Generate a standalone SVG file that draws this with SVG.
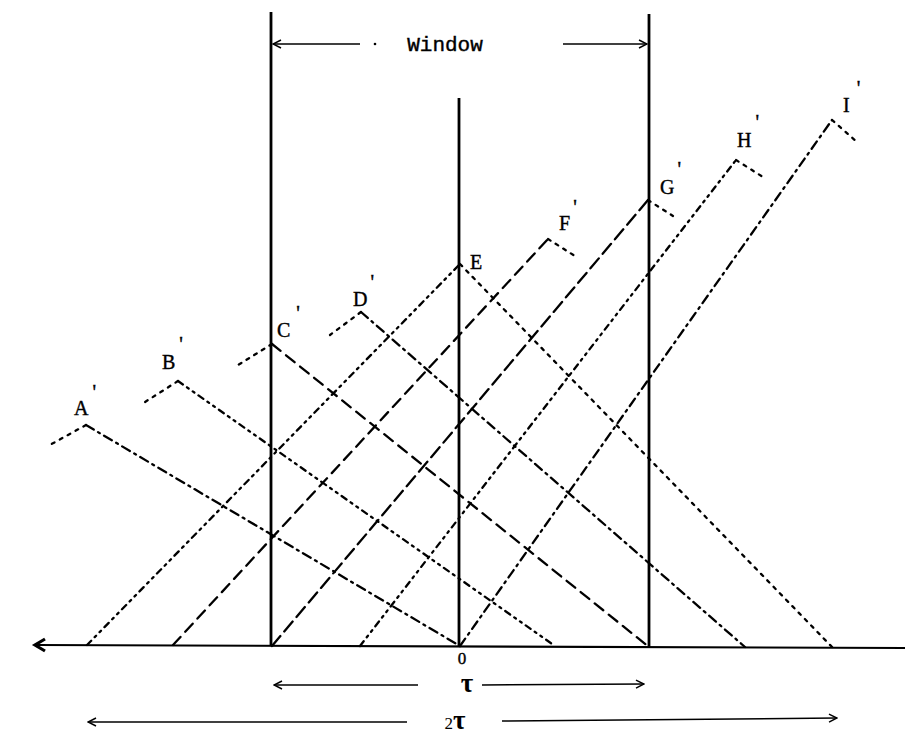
<svg xmlns="http://www.w3.org/2000/svg" width="905" height="738" viewBox="0 0 905 738">
<style>
.bg{fill:#fff}
.v{stroke:#000;stroke-width:2.8;fill:none}
.ax{stroke:#000;stroke-width:2.2;fill:none}
.ar{stroke:#000;stroke-width:1.5;fill:none}
.l{stroke:#000;stroke-width:2.3;fill:none;stroke-linecap:round}
.d1{stroke-dasharray:9 5 2 5}
.d2{stroke-dasharray:6 5 2 5 2 5}
.d3{stroke-dasharray:11 7}
.d4{stroke-dasharray:3 6}
.d5{stroke-dasharray:13 6}
.lab{font-family:"Liberation Serif",serif;font-size:20px;fill:#000;stroke:#000;stroke-width:0.4}
.mono{font-family:"Liberation Mono",monospace;font-size:21px;fill:#000;stroke:#000;stroke-width:0.4}
.tau{font-family:"Liberation Serif",serif;font-size:27px;font-weight:bold;fill:#000}
</style>
<defs>
<marker id="al" markerWidth="10" markerHeight="10" refX="1" refY="5" orient="auto" markerUnits="userSpaceOnUse">
<path d="M9,1 L1,5 L9,9" fill="none" stroke="#000" stroke-width="1.5"/>
</marker>
<marker id="arr" markerWidth="10" markerHeight="10" refX="9" refY="5" orient="auto" markerUnits="userSpaceOnUse">
<path d="M1,1 L9,5 L1,9" fill="none" stroke="#000" stroke-width="1.5"/>
</marker>
</defs>
<rect class="bg" x="0" y="0" width="905" height="738"/>

<g id="frame">
<line class="v" x1="271" y1="12" x2="271" y2="646"/>
<line class="v" x1="459" y1="98" x2="459" y2="646"/>
<line class="v" x1="649" y1="14" x2="649" y2="648"/>
<line class="ax" x1="36" y1="645" x2="905" y2="648"/>
<path d="M45,639 L35,645 L45,651" fill="none" stroke="#000" stroke-width="3.2"/>
</g>

<g id="connectors">
<!-- A' -->
<line class="l d1" x1="86" y1="425" x2="460" y2="646"/>
<line class="l d4" x1="86" y1="425" x2="48" y2="446"/>
<!-- B' -->
<line class="l d2" x1="178" y1="381" x2="555" y2="646"/>
<line class="l d4" x1="178" y1="381" x2="145" y2="402"/>
<!-- C' -->
<line class="l d3" x1="272" y1="344" x2="649" y2="647"/>
<line class="l d4" x1="272" y1="344" x2="238" y2="365"/>
<!-- D' -->
<line class="l d1" x1="361" y1="312" x2="745" y2="647"/>
<line class="l d4" x1="361" y1="312" x2="330" y2="335"/>
<!-- E -->
<line class="l d4" x1="460" y1="264" x2="833" y2="648"/>
<line class="l d2" x1="87" y1="645" x2="460" y2="264"/>
<!-- F' -->
<line class="l d3" x1="173" y1="645" x2="548" y2="239"/>
<line class="l d4" x1="548" y1="239" x2="575" y2="256"/>
<!-- G' -->
<line class="l d5" x1="272" y1="646" x2="648" y2="200"/>
<line class="l d4" x1="648" y1="200" x2="673" y2="216"/>
<!-- H' -->
<line class="l d2" x1="360" y1="646" x2="736" y2="160"/>
<line class="l d4" x1="736" y1="160" x2="763" y2="177"/>
<!-- I' -->
<line class="l d1" x1="460" y1="646" x2="832" y2="120"/>
<line class="l d4" x1="832" y1="120" x2="857" y2="142"/>
</g>

<g id="window-label">
<line class="ar" x1="273" y1="44" x2="360" y2="44" marker-start="url(#al)"/>
<circle cx="375" cy="44" r="1.3" fill="#000"/>
<text class="mono" x="445" y="51" text-anchor="middle">Window</text>
<line class="ar" x1="563" y1="44" x2="647" y2="44" marker-end="url(#arr)"/>
</g>

<g id="labels">
<text id="lA" class="lab" x="74" y="415">A<tspan dx="4" dy="-16">'</tspan></text>
<text id="lB" class="lab" x="162" y="369">B<tspan dx="4" dy="-18">'</tspan></text>
<text id="lC" class="lab" x="277" y="337">C<tspan dx="6" dy="-17">'</tspan></text>
<text id="lD" class="lab" x="353" y="306">D<tspan dx="3" dy="-17">'</tspan></text>
<text id="lE" class="lab" x="470" y="269">E</text>
<text id="lF" class="lab" x="559" y="230">F<tspan dx="3" dy="-16">'</tspan></text>
<text id="lG" class="lab" x="660" y="194">G<tspan dx="3" dy="-18">'</tspan></text>
<text id="lH" class="lab" x="737" y="147">H<tspan dx="4" dy="-18">'</tspan></text>
<text id="lI" class="lab" x="843" y="112">I<tspan dx="7" dy="-17">'</tspan></text>
<text id="lO" class="lab" x="462" y="664" text-anchor="middle" style="font-size:17px">0</text>
</g>

<g id="tau">
<line class="ar" x1="274" y1="685" x2="418" y2="685" marker-start="url(#al)"/>
<text class="tau" x="467" y="692" text-anchor="middle">τ</text>
<line class="ar" x1="482" y1="685" x2="644" y2="684" marker-end="url(#arr)"/>
</g>

<g id="two-tau">
<line class="ar" x1="88" y1="722" x2="407" y2="722" marker-start="url(#al)"/>
<text class="tau" x="455" y="729" text-anchor="middle"><tspan style="font-size:17px;font-weight:normal">2</tspan>τ</text>
<line class="ar" x1="502" y1="721" x2="837" y2="718" marker-end="url(#arr)"/>
</g>
</svg>
